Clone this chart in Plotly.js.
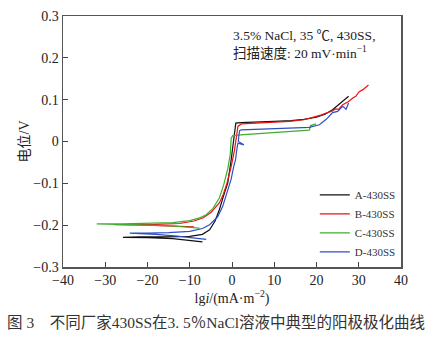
<!DOCTYPE html>
<html><head><meta charset="utf-8">
<script src="https://cdn.plot.ly/plotly-3.0.1.min.js"></script>
<style>html,body{margin:0;padding:0;background:#fff}</style>
</head><body><div id="chart" style="width:436px;height:337px"></div>
<script>
// Series A-430SS (black)
const aX = [-7.0,-10,-14,-20,-25.8,-22,-16,-10,-7,-5.3,-4,-3,-2,-1,-0.2,0.3,0.7,0.9,2,6,10,14,17,20,22,23.8,25.5,27.6];
const aY = [-0.240,-0.236,-0.232,-0.230,-0.229,-0.228,-0.228,-0.227,-0.222,-0.211,-0.19,-0.163,-0.13,-0.099,-0.044,0.0,0.035,0.044,0.045,0.046,0.048,0.050,0.053,0.058,0.065,0.076,0.090,0.108];
// Series B-430SS (red)
const bX = [-9,-14,-20,-27.8,-24,-18,-12.4,-9,-6.9,-5,-3,-2.2,-1.2,-0.2,0.6,1.2,1.4,2.2,6,10,13.6,17,19.1,21,22.3,23.8,24.5,25.2,26.2,27.5,28.6,29.3,30.1,31,32.3];
const bY = [-0.204,-0.202,-0.200,-0.199,-0.199,-0.198,-0.196,-0.19,-0.183,-0.17,-0.147,-0.13,-0.10,-0.06,-0.02,0.02,0.036,0.042,0.044,0.046,0.048,0.052,0.057,0.063,0.068,0.073,0.078,0.077,0.088,0.095,0.104,0.108,0.119,0.124,0.135];
// Series C-430SS (green)
const cX = [-7.7,-10,-14,-20,-26,-32,-26,-20,-14,-10,-7.5,-6.1,-4.5,-3,-2,-1,-0.4,-0.2,0.2,2,8,14,18.3,18.6,19.9];
const cY = [-0.207,-0.205,-0.202,-0.200,-0.198,-0.197,-0.197,-0.196,-0.194,-0.189,-0.182,-0.175,-0.16,-0.135,-0.105,-0.065,-0.03,0.008,0.014,0.016,0.020,0.024,0.027,0.038,0.042];
// Series D-430SS (blue)
const dX = [-6.1,-9,-13,-18,-24.2,-20,-15,-10,-7,-5.3,-3.4,-2.2,-1,-0.2,0.4,0.83,1.2,1.4,2.8,1.5,1.6,1.8,2.2,8,14,18.3,20.7,22.3,23.8,25,26.2,27,27.6];
const dY = [-0.234,-0.230,-0.226,-0.222,-0.219,-0.219,-0.218,-0.215,-0.208,-0.199,-0.18,-0.155,-0.115,-0.09,-0.06,-0.044,-0.015,-0.004,-0.008,0.0,0.012,0.026,0.028,0.030,0.032,0.034,0.040,0.053,0.069,0.072,0.084,0.077,0.092];

const names = ['A-430SS','B-430SS','C-430SS','D-430SS'];
const colors = ['#111111','#ee1111','#3fae2e','#2f4fc4'];
const xs = [aX,bX,cX,dX], ys = [aY,bY,cY,dY];

const serif = 'Liberation Serif, Noto Sans CJK SC, serif';
const traces = names.map((n,i)=>({
  x: xs[i], y: ys[i], name: n, type:'scatter', mode:'lines',
  line:{color:colors[i], width:1.2}
}));

const layout = {
  width:436, height:337,
  margin:{l:63, r:35, t:16, b:70},
  paper_bgcolor:'#fff', plot_bgcolor:'#fff',
  font:{family:serif, size:14, color:'#222'},
  showlegend:true,
  legend:{x:0.745, y:0.345, xanchor:'left', yanchor:'top', bgcolor:'rgba(0,0,0,0)',
          font:{family:serif, size:11, color:'#333'}, itemwidth:30, tracegroupgap:0},
  xaxis:{range:[-40,40], dtick:10, tick0:-40, ticks:'inside', ticklen:5, tickcolor:'#444',
         showline:true, mirror:true, linecolor:'#555', linewidth:1.5, showgrid:false, zeroline:false,
         tickfont:{family:serif, size:14, color:'#222'},
         title:{text:'lg<i>i</i>/(mA·m<sup>−2</sup>)', font:{family:serif, size:14, color:'#222'}, standoff:6}},
  yaxis:{range:[-0.3,0.3], dtick:0.1, ticks:'inside', ticklen:5, tickcolor:'#444',
         showline:true, mirror:true, linecolor:'#555', linewidth:1.5, showgrid:false, zeroline:false,
         tickfont:{family:serif, size:14, color:'#222'},
         title:{text:'电位/V', font:{family:serif, size:14, color:'#222'}, standoff:0}},
  annotations:[
    {xref:'paper', yref:'paper', x:0.497, y:0.96, xanchor:'left', yanchor:'top', align:'left', showarrow:false,
     text:'3.5% NaCl, 35 ℃, 430SS,<br>扫描速度: 20 mV·min<sup>−1</sup>', font:{family:serif, size:13.5, color:'#222'}},
    {xref:'paper', yref:'paper', x:-0.172, y:-0.223, xanchor:'left', yanchor:'middle', showarrow:false,
     text:'图 3　不同厂家430SS在3. 5％NaCl溶液中典型的阳极极化曲线', font:{family:serif, size:15.5, color:'#333'}}
  ]
};
Plotly.newPlot('chart', traces, layout, {displayModeBar:false, staticPlot:true});
</script></body></html>
